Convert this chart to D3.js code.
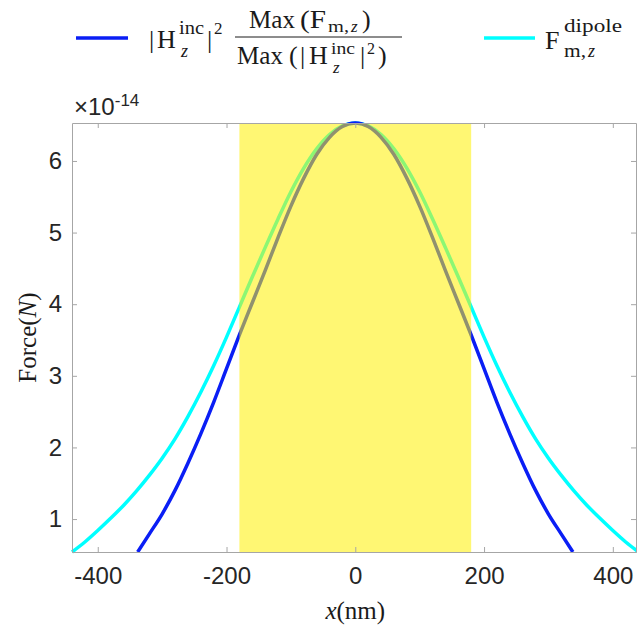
<!DOCTYPE html>
<html>
<head>
<meta charset="utf-8">
<script src="https://cdn.jsdelivr.net/npm/d3@7"></script>
<style>
body { margin: 0; background: #fff; }
</style>
</head>
<body>
<svg id="chart" width="637" height="631"></svg>
<script>
// data (force in units of 1e-14 N, position in nm)
const incX = [-338, -320, -300, -280, -260, -240, -220, -200, -180, -160, -140, -120, -100, -80, -60, -40, -20, 0,
    20, 40, 60, 80, 100, 120, 140, 160, 180, 200, 220, 240, 260, 280, 300, 320, 338];
const incForce = [0.54, 0.79, 1.07, 1.40, 1.78, 2.19, 2.63, 3.10, 3.57, 4.02, 4.47, 4.93, 5.37, 5.76, 6.09, 6.33, 6.48, 6.53,
    6.48, 6.33, 6.09, 5.76, 5.37, 4.93, 4.47, 4.02, 3.57, 3.10, 2.63, 2.19, 1.78, 1.40, 1.07, 0.79, 0.54];

const dipoleX = [-440, -420, -400, -380, -360, -340, -320, -300, -280, -260, -240, -220, -200, -180, -160, -140, -120, -100, -80, -60, -40, -20, 0,
    20, 40, 60, 80, 100, 120, 140, 160, 180, 200, 220, 240, 260, 280, 300, 320, 340, 360, 380, 400, 420, 440];
const dipoleForce = [0.54, 0.68, 0.84, 1.01, 1.19, 1.39, 1.61, 1.85, 2.12, 2.43, 2.77, 3.14, 3.54, 3.96, 4.38, 4.79, 5.19, 5.57, 5.90, 6.17, 6.37, 6.49, 6.53,
    6.49, 6.37, 6.17, 5.90, 5.57, 5.19, 4.79, 4.38, 3.96, 3.54, 3.14, 2.77, 2.43, 2.12, 1.85, 1.61, 1.39, 1.19, 1.01, 0.84, 0.68, 0.54];

const shadedRange = [-180, 180];
const xTicks = [-400, -200, 0, 200, 400];
const yTicks = [1, 2, 3, 4, 5, 6];

const box = { left: 72, right: 636, top: 123, bottom: 552 };
const axisColor = "#a6a6a6";
const blue = "#0a1ef5";
const cyan = "#00ffff";

var svg = d3.select("#chart");

var xScale = d3.scaleLinear()
    .domain([-440, 436])
    .range([box.left, box.right]);

var yScale = d3.scaleLinear()
    .domain([0.54, 6.53])
    .range([box.bottom, box.top]);

var line = d3.line()
    .curve(d3.curveMonotoneX)
    .x(d => xScale(d[0]))
    .y(d => yScale(d[1]));

// curves
svg.append("path")
    .datum(dipoleX.map((x, i) => [x, dipoleForce[i]]))
    .attr("fill", "none")
    .attr("stroke", cyan)
    .attr("stroke-width", 3.5)
    .attr("d", line);

svg.append("path")
    .datum(incX.map((x, i) => [x, incForce[i]]))
    .attr("fill", "none")
    .attr("stroke", blue)
    .attr("stroke-width", 3.5)
    .attr("d", line);

// translucent yellow band on top of the curves
svg.append("rect")
    .attr("x", xScale(shadedRange[0]))
    .attr("y", box.top)
    .attr("width", xScale(shadedRange[1]) - xScale(shadedRange[0]))
    .attr("height", box.bottom - box.top)
    .attr("fill", "#fff000")
    .attr("opacity", 0.55);

// axes, ticks pointing inwards on all four sides
function styleAxis(g) {
    g.selectAll("line, path").attr("stroke", axisColor);
    g.selectAll("text")
        .attr("fill", "#262626")
        .style("font-family", "'Liberation Sans', Arial, sans-serif")
        .style("font-size", "24px");
}

svg.append("g")
    .attr("transform", `translate(0, ${box.bottom})`)
    .call(d3.axisBottom(xScale).tickValues(xTicks).tickSize(-5).tickSizeOuter(0).tickPadding(15)
        .tickFormat(d => String(d)))
    .call(styleAxis);

svg.append("g")
    .attr("transform", `translate(0, ${box.top})`)
    .call(d3.axisTop(xScale).tickValues(xTicks).tickSize(-5).tickSizeOuter(0).tickFormat(""))
    .call(styleAxis);

svg.append("g")
    .attr("transform", `translate(${box.left}, 0)`)
    .call(d3.axisLeft(yScale).tickValues(yTicks).tickSize(-5).tickSizeOuter(0).tickPadding(10)
        .tickFormat(d => String(d)))
    .call(styleAxis);

svg.append("g")
    .attr("transform", `translate(${box.right}, 0)`)
    .call(d3.axisRight(yScale).tickValues(yTicks).tickSize(-5).tickSizeOuter(0).tickFormat(""))
    .call(styleAxis);

// exponent label
var expo = svg.append("text")
    .attr("x", 74)
    .attr("y", 115)
    .attr("fill", "#262626")
    .style("font-family", "'Liberation Sans', Arial, sans-serif")
    .style("font-size", "24px");
expo.append("tspan").text("\u00d710");
expo.append("tspan").attr("dy", -9).style("font-size", "17px").text("-14");

// little helper for the LaTeX-looking pieces
function tex(x, y, str, size, opts) {
    opts = opts || {};
    var t = svg.append("text")
        .attr("x", x)
        .attr("y", y)
        .attr("fill", "#1a1a1a")
        .style("font-family", "'Liberation Serif', 'Times New Roman', serif")
        .style("font-size", size + "px")
        .style("font-style", opts.italic ? "italic" : "normal")
        .text(str);
    if (opts.len) t.attr("textLength", opts.len).attr("lengthAdjust", "spacingAndGlyphs");
    return t;
}

// axis labels
var ylab = svg.append("text")
    .attr("transform", `translate(36, ${(box.top + box.bottom) / 2}) rotate(-90)`)
    .attr("text-anchor", "middle")
    .attr("fill", "#1a1a1a")
    .style("font-family", "'Liberation Serif', 'Times New Roman', serif")
    .style("font-size", "25px");
ylab.append("tspan").text("Force(");
ylab.append("tspan").style("font-style", "italic").text("N");
ylab.append("tspan").text(")");

var xlab = svg.append("text")
    .attr("x", xScale(0))
    .attr("y", 619)
    .attr("text-anchor", "middle")
    .attr("fill", "#1a1a1a")
    .style("font-family", "'Liberation Serif', 'Times New Roman', serif")
    .style("font-size", "25px");
xlab.append("tspan").style("font-style", "italic").text("x");
xlab.append("tspan").text("(nm)");

// legend: blue entry
svg.append("line")
    .attr("x1", 76).attr("x2", 128)
    .attr("y1", 38).attr("y2", 38)
    .attr("stroke", blue).attr("stroke-width", 3.5);

tex(149, 48, "|", 26);
tex(157, 48, "H", 26);
tex(179, 34, "inc", 18, { len: 25 });
tex(181, 57, "z", 18, { italic: true });
tex(207, 48, "|", 26);
tex(214, 34, "2", 17);

// fraction: numerator
tex(249, 28, "Max", 26, { len: 46 });
tex(300, 28, "(F", 26, { len: 26 });
tex(328, 32, "m,", 17, { len: 21 });
tex(351, 32, "z", 17, { italic: true });
tex(362, 28, ")", 26);

svg.append("line")
    .attr("x1", 235).attr("x2", 402)
    .attr("y1", 37).attr("y2", 37)
    .attr("stroke", "#1a1a1a").attr("stroke-width", 1);

// fraction: denominator
tex(237, 64, "Max", 26, { len: 46 });
tex(289, 64, "(", 26);
tex(300, 64, "|", 26);
tex(309, 64, "H", 26);
tex(331, 54, "inc", 17, { len: 24 });
tex(333, 73, "z", 17, { italic: true });
tex(360, 64, "|", 26);
tex(367, 54, "2", 16);
tex(378, 64, ")", 26);

// legend: cyan entry
svg.append("line")
    .attr("x1", 484).attr("x2", 535)
    .attr("y1", 38).attr("y2", 38)
    .attr("stroke", cyan).attr("stroke-width", 3.5);

tex(545, 49, "F", 26);
tex(564, 32, "dipole", 19, { len: 58 });
tex(564, 57, "m,", 18, { len: 22 });
tex(588, 57, "z", 18, { italic: true });
</script>
</body>
</html>
